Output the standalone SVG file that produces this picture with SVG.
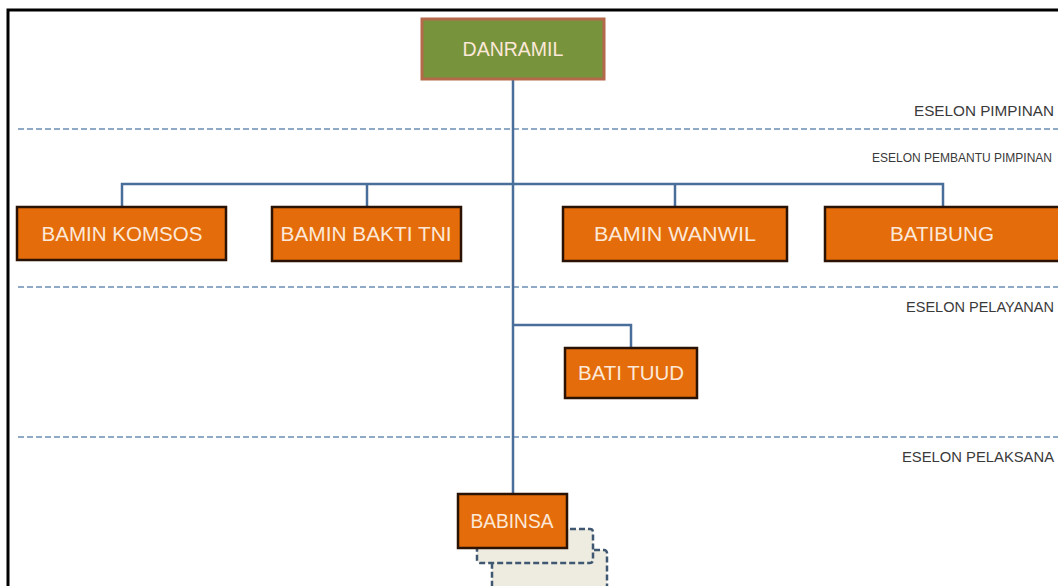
<svg xmlns="http://www.w3.org/2000/svg" width="1058" height="586" viewBox="0 0 1058 586">
<style>
.frame{fill:none;stroke:#000;stroke-width:3}
.sep{stroke:#8FAAC6;stroke-width:2;stroke-dasharray:6 3;fill:none}
.conn{stroke:#4A6E9A;stroke-width:2.5;fill:none}
.box{fill:#E46C0A;stroke:#2A1204;stroke-width:2.5}
.top{fill:#77933C;stroke:#B5694B;stroke-width:3}
.shadow{fill:#EEECE1;stroke:#3F5770;stroke-width:2.5;stroke-dasharray:6 3}
.lbl{font-family:"Liberation Sans",Arial,sans-serif;font-size:19.5px;fill:#FCE8D8;text-anchor:middle}
.esl{font-family:"Liberation Sans",Arial,sans-serif;font-size:14px;fill:#3A3A3A;text-anchor:end}
</style>
<rect width="1058" height="586" fill="#fff"/>
<rect class="frame" x="8" y="10" width="1100" height="700"/>
<g id="separators">
<line class="sep" x1="18" y1="129" x2="1058" y2="129"/>
<line class="sep" x1="18" y1="287" x2="1058" y2="287"/>
<line class="sep" x1="18" y1="437" x2="1058" y2="437"/>
</g>
<g id="eselon-labels">
<text class="esl" x="1054" y="116" textLength="140" lengthAdjust="spacingAndGlyphs">ESELON PIMPINAN</text>
<text class="esl" x="1052" y="162" style="font-size:12px">ESELON PEMBANTU PIMPINAN</text>
<text class="esl" x="1054" y="312" textLength="148" lengthAdjust="spacingAndGlyphs">ESELON PELAYANAN</text>
<text class="esl" x="1054" y="462" textLength="152" lengthAdjust="spacingAndGlyphs">ESELON PELAKSANA</text>
</g>
<g id="connectors">
<line class="conn" x1="513" y1="79" x2="513" y2="494"/>
<polyline class="conn" points="122,207 122,184 943,184 943,207"/>
<line class="conn" x1="367" y1="184" x2="367" y2="207"/>
<line class="conn" x1="675" y1="184" x2="675" y2="207"/>
<polyline class="conn" points="513,325 631,325 631,348"/>
</g>
<g id="danramil">
<rect class="top" x="422" y="19" width="182" height="60"/>
<text class="lbl" x="513" y="56" font-size="20">DANRAMIL</text>
</g>
<g id="bamin-komsos">
<rect class="box" x="17" y="207" width="209" height="53"/>
<text class="lbl" x="122" y="241" textLength="161" lengthAdjust="spacingAndGlyphs">BAMIN KOMSOS</text>
</g>
<g id="bamin-bakti-tni">
<rect class="box" x="272" y="207" width="189" height="54"/>
<text class="lbl" x="366" y="241" textLength="171" lengthAdjust="spacingAndGlyphs">BAMIN BAKTI TNI</text>
</g>
<g id="bamin-wanwil">
<rect class="box" x="563" y="207" width="224" height="54"/>
<text class="lbl" x="675" y="241" textLength="162" lengthAdjust="spacingAndGlyphs">BAMIN WANWIL</text>
</g>
<g id="batibung">
<rect class="box" x="825" y="207" width="240" height="54"/>
<text class="lbl" x="942" y="241" textLength="104" lengthAdjust="spacingAndGlyphs">BATIBUNG</text>
</g>
<g id="bati-tuud">
<rect class="box" x="565" y="348" width="132" height="50"/>
<text class="lbl" x="631" y="380" textLength="106" lengthAdjust="spacingAndGlyphs">BATI TUUD</text>
</g>
<g id="babinsa">
<rect class="shadow" x="492" y="550" width="115" height="60" rx="3"/>
<rect class="shadow" x="477" y="529" width="116" height="34" rx="3"/>
<rect class="box" x="458" y="494" width="109" height="54"/>
<text class="lbl" x="512" y="528" textLength="83" lengthAdjust="spacingAndGlyphs">BABINSA</text>
</g>
</svg>
